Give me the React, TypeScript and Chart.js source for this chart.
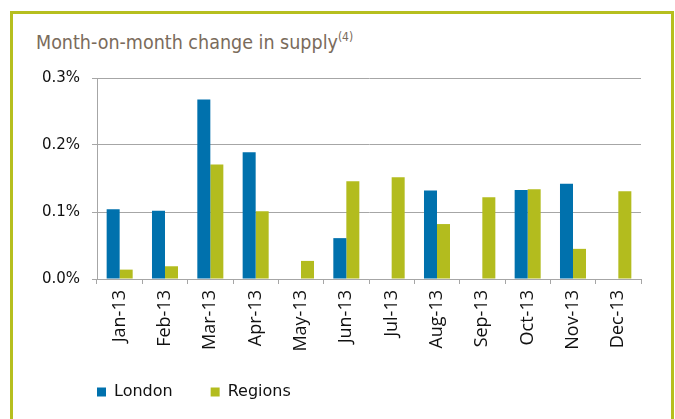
import React, { useEffect, useRef } from "react";
import { Chart, registerables } from "chart.js";

Chart.register(...registerables);

const categories = ["Jan-13", "Feb-13", "Mar-13", "Apr-13", "May-13", "Jun-13", "Jul-13", "Aug-13", "Sep-13", "Oct-13", "Nov-13", "Dec-13"];
const london = [0.104, 0.102, 0.268, 0.189, null, 0.061, null, 0.132, null, 0.133, 0.142, null];
const regions = [0.014, 0.019, 0.171, 0.101, 0.027, 0.146, 0.152, 0.082, 0.122, 0.134, 0.045, 0.131];
const yTicks = [0, 0.1, 0.2, 0.3];

const BLUE = "#0071ad";
const GREEN = "#b3bc1e";
const GRID = "#a6a6a6";
const LEGEND_PAD = 38;

const legendShift = {
  id: "legendShift",
  afterLayout(chart: any) {
    const lg = chart.legend;
    if (!lg) return;
    const w = lg.right - lg.left;
    lg.left = 85 - LEGEND_PAD;
    lg.right = lg.left + w;
  },
};

export default function App() {
  const ref = useRef<HTMLCanvasElement | null>(null);

  useEffect(() => {
    if (!ref.current) return;
    const chart = new Chart(ref.current, {
      type: "bar",
      data: {
        labels: categories,
        datasets: [
          { label: "London", data: london, backgroundColor: BLUE, borderWidth: 0, categoryPercentage: 0.574, barPercentage: 1 },
          { label: "Regions", data: regions, backgroundColor: GREEN, borderWidth: 0, categoryPercentage: 0.574, barPercentage: 1 },
        ],
      },
      plugins: [legendShift],
      options: {
        animation: false,
        responsive: false,
        maintainAspectRatio: false,
        layout: { padding: { left: 10, right: 11, top: 12, bottom: 0 } },
        plugins: {
          tooltip: { enabled: false },
          title: { display: false },
          legend: {
            display: true,
            position: "bottom",
            align: "start",
            labels: {
              boxWidth: 9,
              boxHeight: 9,
              padding: LEGEND_PAD,
              color: "#111",
              font: { family: "'DejaVu Sans', sans-serif", size: 16 },
            },
          },
        },
        scales: {
          x: {
            offset: true,
            afterFit: (s: any) => {
              s.height = 67;
              s._computeLabelArea = () => undefined;
            },
            grid: { display: true, drawOnChartArea: false, drawTicks: true, tickLength: 5, color: GRID, offset: true },
            border: { display: true, color: GRID },
            ticks: {
              minRotation: 90,
              maxRotation: 90,
              padding: 6,
              color: "#111",
              font: { family: "'Open Sans', sans-serif", size: 18 },
              autoSkip: false,
            },
          },
          y: {
            min: 0,
            max: 0.3,
            afterFit: (s: any) => { s.width = 75; },
            afterBuildTicks: (s: any) => { s.ticks = yTicks.map((v) => ({ value: v })); },
            grid: { color: GRID, tickLength: 5, drawTicks: true },
            border: { display: true, color: GRID },
            ticks: {
              padding: 12,
              color: "#111",
              font: { family: "'DejaVu Sans', sans-serif", size: 15 },
              callback: (v: any) => Number(v).toFixed(1) + "%",
            },
          },
        },
      },
    });
    return () => chart.destroy();
  }, []);

  return (
    <div style={{ position: "fixed", left: 0, top: 0, width: 675, height: 419, background: "#fff", overflow: "hidden" }}>
      <div style={{ position: "absolute", left: 10, top: 11, width: 658, height: 450, border: "3px solid #b6bf1f" }} />
      <div
        style={{
          position: "absolute",
          left: 36,
          top: 31,
          fontFamily: "'DejaVu Sans Condensed', 'DejaVu Sans', sans-serif",
          fontSize: 19.5,
          lineHeight: "24px",
          color: "#7a6b5b",
          whiteSpace: "nowrap",
        }}
      >
        Month-on-month change in supply<sup style={{ fontSize: 12, verticalAlign: "8px", lineHeight: 0 }}>(4)</sup>
      </div>
      <canvas ref={ref} width={640} height={353} style={{ position: "absolute", left: 12, top: 57, width: 640, height: 353 }} />
    </div>
  );
}
